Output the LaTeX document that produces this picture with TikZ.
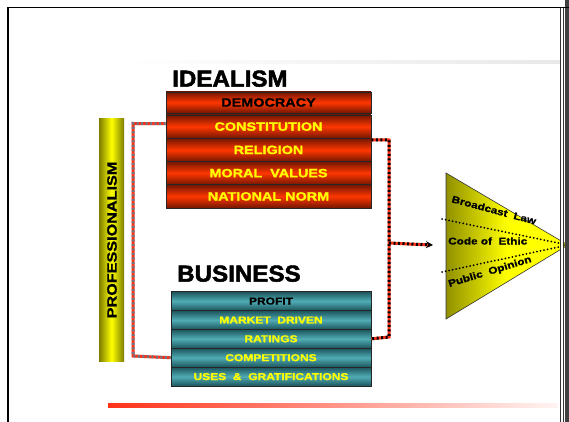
\documentclass[tikz,border=0pt]{standalone}
\usepackage{fontspec}
\setmainfont{Liberation Sans}
\newfontfamily\rowf[FakeStretch=1.2,FakeBold=1.3]{Liberation Sans}
\newfontfamily\trif[FakeStretch=1.2,FakeBold=0.8]{Liberation Sans}
\newfontfamily\titf[FakeStretch=1.05,FakeBold=2.2]{Liberation Sans}
\usetikzlibrary{arrows.meta}
\definecolor{redmid}{RGB}{255,55,0}
\definecolor{reddark}{RGB}{115,22,0}
\definecolor{tealmid}{RGB}{80,172,180}
\definecolor{tealdark}{RGB}{28,84,92}
\definecolor{ylw}{RGB}{255,255,0}
\definecolor{olv}{RGB}{125,125,0}
\definecolor{lnred}{RGB}{255,50,25}
\definecolor{stripegray}{RGB}{110,120,130}
\begin{document}
\begin{tikzpicture}[x=1pt,y=-1pt,
  redrow/.style={draw=black!85, line width=0.8pt, minimum width=205pt,
    minimum height=23.25pt, inner sep=0pt,
    top color=reddark, bottom color=reddark, middle color=redmid,
    font=\rowf\bfseries\fontsize{12}{12}\selectfont, text=ylw},
  tealrow/.style={draw=black!85, line width=0.8pt, minimum width=200pt,
    minimum height=18.86pt, inner sep=0pt,
    top color=tealdark, bottom color=tealdark, middle color=tealmid,
    font=\rowf\bfseries\fontsize{10}{10}\selectfont, text=ylw},
  titlestyle/.style={font=\titf\bfseries\fontsize{23}{23}\selectfont, text=black, inner sep=0pt},
  tritext/.style={font=\trif\bfseries\fontsize{9.8}{9.8}\selectfont, text=black, inner sep=0pt},
  linkbase/.style={line width=3pt, draw=lnred},
  graystripe/.style={line width=3pt, draw=stripegray, dash pattern=on 2pt off 2.5pt},
  blackstripe/.style={line width=3pt, draw=black, dash pattern=on 2pt off 2.5pt},
  dotline/.style={draw=black, line width=2pt, line cap=round, dash pattern=on 0pt off 3.6pt}
]
\useasboundingbox (0,0) rectangle (569,422);
\fill[white] (0,0) rectangle (569,422);

% frame
\draw[black, line width=1.2pt] (8,422) -- (8,7.5) -- (569,7.5);

% top grey rule and bottom red rule
\shade[left color=white, right color=black!9] (120,61) rectangle (560,64);
\shade[left color=lnred, right color=lnred!5] (108,403) rectangle (558,407);

% titles
\node[titlestyle, anchor=south west] (idealism) at (172,87) {IDEALISM};
\node[titlestyle, anchor=south west] (business) at (177,282) {BUSINESS};

% professionalism bar
\shade[left color=olv, right color=olv, middle color=ylw] (99,119) rectangle (124,361);
\node[font=\rowf\bfseries\fontsize{13.5}{13.5}\selectfont, rotate=90, inner sep=0pt] (prof) at (112,240) {PROFESSIONALISM};

% idealism rows
\node[redrow, minimum height=21pt, text=black] (democracy) at (268.5,102.5) {DEMOCRACY};
\node[redrow] (constitution) at (268.5,126.6) {CONSTITUTION};
\node[redrow] (religion) at (268.5,149.9) {RELIGION};
\node[redrow] (moral) at (268.5,173.1) {MORAL\ \ VALUES};
\node[redrow] (national) at (268.5,196.4) {NATIONAL NORM};

% business rows
\node[tealrow, text=black] (profit) at (271,301.1) {PROFIT};
\node[tealrow] (market) at (271,320.0) {MARKET\ \ DRIVEN};
\node[tealrow] (ratings) at (271,338.8) {RATINGS};
\node[tealrow] (competitions) at (271,357.7) {COMPETITIONS};
\node[tealrow] (uses) at (271,376.6) {USES\ \ \&\ \ GRATIFICATIONS};

% left connector
\coordinate (lt) at (133,123.5);
\coordinate (lb) at (133,356);
\foreach \s in {linkbase,graystripe}{
  \draw[\s] ([yshift=3pt]constitution.west) -- (lt) -- (lb) -- (competitions.west);
}

% right connector
\coordinate (rt) at (389,140);
\coordinate (rb) at (389,337);
\coordinate (junc) at (389,243);
\foreach \s in {linkbase,blackstripe}{
  \draw[\s] ([yshift=-2pt]religion.north east) -- (rt) -- (rb) -- (ratings.east);
}

% triangle
\coordinate (tri) at (446,245);
\shade[left color=olv!85!ylw, right color=ylw, middle color=ylw] (446,173) -- (568,245) -- (446,319) -- cycle;
\draw[black!80, line width=0.6pt] (446,173) -- (568,245) -- (446,319) -- cycle;
\coordinate (apex) at (568,245);
\coordinate (d1) at (442,219);
\coordinate (d2) at (442,272);
\draw[dotline] (d1) -- (apex);
\draw[dotline] (d2) -- (apex);
\node[tritext, rotate=-15] (blaw) at (494,210) {Broadcast\ \ Law};
\node[tritext, anchor=west] (ethic) at (448,241) {Code of\ \ Ethic};
\node[tritext, rotate=17] (popinion) at (490,272) {Public\ \ Opinion};

% arrow to triangle
\draw[linkbase] (junc) -- ([xshift=-16pt]tri);
\draw[blackstripe, -{Stealth[length=7pt,width=7pt]}] (junc) -- ([xshift=-13pt]tri);

% frame right edge, on top of the triangle
\fill[black!75] (565,0) rectangle (569,422);
\fill[white] (561,7.5) rectangle (563,422);
\draw[black!80, line width=1pt] (560.5,7.5) -- (560.5,422);
\draw[black!80, line width=1pt] (563.5,7.5) -- (563.5,422);
\draw[black, line width=1.2pt] (8,7.5) -- (569,7.5);
\end{tikzpicture}
\end{document}
